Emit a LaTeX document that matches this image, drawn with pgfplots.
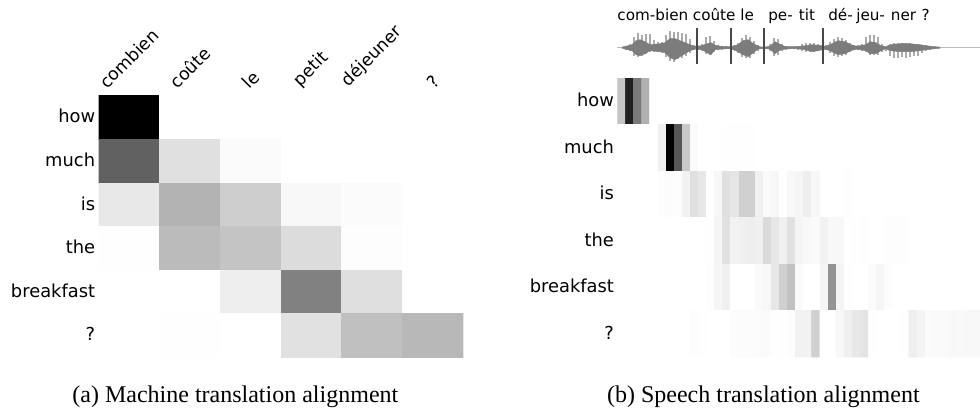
\documentclass[border=0pt]{standalone}
\usepackage{pgfplots}
\usepackage{pgfplotstable}
\usepackage{fontspec}
\pgfplotsset{compat=1.18}
\setmainfont{DejaVu Sans}
\newfontfamily\capfont{Liberation Serif}
\pgfplotstableread[row sep=\\]{
x u d\\
626 2 2\\ 628 3 2\\ 630 4 3\\ 632 7 4\\ 634 11 8\\ 636 9 7\\ 638 15 9\\ 640 17 8\\ 642 13 8\\ 644 16 7\\ 646 14 6\\ 648 13 5\\ 650 14 4\\ 652 7 4\\ 654 8 4\\ 656 5 4\\ 658 6 4\\ 660 7 5\\ 662 6 5\\ 664 9 6\\ 666 13 9\\ 668 15 11\\ 670 17 13\\ 672 20 16\\ 674 16 14\\ 676 19 15\\ 678 16 11\\ 680 18 13\\ 682 15 10\\ 684 17 12\\ 686 14 8\\ 688 13 7\\ 690 9 5\\ 692 6 4\\ 694 3 2\\ 696 2 2\\ 698 2 2\\ 700 3 2\\ 702 4 3\\ 704 8 4\\ 706 11 6\\ 708 13 7\\ 710 12 7\\ 712 13 7\\ 714 7 4\\ 716 4 3\\ 718 3 2\\ 720 2 2\\ 722 2 2\\ 724 2 2\\ 726 2 1\\ 728 2 2\\ 730 1 1\\ 732 2 2\\ 734 3 2\\ 736 4 4\\ 738 5 5\\ 740 8 7\\ 742 10 9\\ 744 12 11\\ 746 13 10\\ 748 14 12\\ 750 11 10\\ 752 9 9\\ 754 7 6\\ 756 4 3\\ 758 3 3\\ 760 2 2\\ 762 1 1\\ 764 1 1\\ 766 1 1\\ 768 2 2\\ 770 4 3\\ 772 7 6\\ 774 10 8\\ 776 12 9\\ 778 9 7\\ 780 6 5\\ 782 4 3\\ 784 3 2\\ 786 2 2\\ 788 2 1\\ 790 1 1\\ 792 1 1\\ 794 1 1\\ 796 1 1\\ 798 2 2\\ 800 3 2\\ 802 4 3\\ 804 6 4\\ 806 5 4\\ 808 6 4\\ 810 5 4\\ 812 6 5\\ 814 5 4\\ 816 5 4\\ 818 4 3\\ 820 3 3\\ 822 2 2\\ 824 2 2\\ 826 3 2\\ 828 4 3\\ 830 6 5\\ 832 8 6\\ 834 9 8\\ 836 10 8\\ 838 11 9\\ 840 10 8\\ 842 10 8\\ 844 8 7\\ 846 8 7\\ 848 6 5\\ 850 5 4\\ 852 4 3\\ 854 3 2\\ 856 2 2\\ 858 3 2\\ 860 3 3\\ 862 4 3\\ 864 7 3\\ 866 11 4\\ 868 12 6\\ 870 13 7\\ 872 13 7\\ 874 13 7\\ 876 12 6\\ 878 11 7\\ 880 8 5\\ 882 4 4\\ 884 2 2\\ 886 1 3\\ 888 2 6\\ 890 3 8\\ 892 4 9\\ 894 5 10\\ 896 4 11\\ 898 5 10\\ 900 5 11\\ 902 5 9\\ 904 5 11\\ 906 5 10\\ 908 5 11\\ 910 5 9\\ 912 5 10\\ 914 4 8\\ 916 4 9\\ 918 4 8\\ 920 4 7\\ 922 3 5\\ 924 3 5\\ 926 3 3\\ 928 2 2\\ 930 2 2\\ 932 1 1\\ 934 1 1\\
}\wavecomb
\definecolor{wavedark}{HTML}{7C7C7C}
\definecolor{wavelight}{HTML}{ABABAB}
\definecolor{waveline}{HTML}{BBBBBB}
\definecolor{wavebar}{HTML}{484848}
\pgfplotsset{
  heat/.style={
    scale only axis, y dir=reverse, axis line style={draw=none},
    major tick length=0pt, ymin=-0.5, ymax=5.5, ytick={0,1,2,3,4,5},
    yticklabels={how,much,is,the,breakfast,?},
    y tick label style={font=\fontsize{13.4}{15}\selectfont, xshift=1pt, yshift=0.9pt},
    point meta min=0, point meta max=255,
    colormap={bw}{gray(0cm)=(0); gray(1cm)=(1)},
  }
}
\begin{document}
\begin{tikzpicture}
\path[use as bounding box] (0pt,0pt) rectangle (735pt,306pt);

\begin{axis}[heat, at={(73.875pt,38.25pt)}, anchor=south west,
  width=273.6pt, height=196pt, xmin=-0.5, xmax=5.5,
  xtick={0,1,2,3,4,5}, xticklabel pos=upper,
  xticklabels={\rotatebox{45}{combien},\rotatebox{45}{coûte},\rotatebox{45}{le},\rotatebox{45}{petit},\rotatebox{45}{déjeuner},\rotatebox{45}{?}},
  x tick label style={font=\fontsize{13}{15}\selectfont, anchor=south, yshift=1pt}]
\addplot[matrix plot*, mesh/cols=6, point meta=explicit] table[row sep=\\, meta=c] {
x y c\\
0 0 0\\ 1 0 254\\ 2 0 255\\ 3 0 255\\ 4 0 255\\ 5 0 255\\
0 1 96\\ 1 1 222\\ 2 1 249\\ 3 1 255\\ 4 1 255\\ 5 1 255\\
0 2 230\\ 1 2 178\\ 2 2 205\\ 3 2 246\\ 4 2 249\\ 5 2 255\\
0 3 252\\ 1 3 186\\ 2 3 195\\ 3 3 218\\ 4 3 251\\ 5 3 255\\
0 4 255\\ 1 4 253\\ 2 4 236\\ 3 4 128\\ 4 4 220\\ 5 4 255\\
0 5 255\\ 1 5 252\\ 2 5 254\\ 3 5 223\\ 4 5 191\\ 5 5 183\\
};
\end{axis}

\begin{axis}[heat, at={(462.975pt,38.25pt)}, anchor=south west,
  width=272.025pt, height=209.25pt, xmin=-0.5, xmax=44.28, xtick=\empty]
\addplot[matrix plot*, mesh/cols=45, point meta=explicit] table[row sep=\\, meta=c] {
x y c\\
0 0 196\\ 1 0 32\\ 2 0 120\\ 3 0 176\\ 4 0 255\\ 5 0 255\\ 6 0 255\\ 7 0 255\\ 8 0 255\\ 9 0 255\\ 10 0 255\\ 11 0 255\\ 12 0 255\\ 13 0 255\\ 14 0 255\\ 15 0 255\\ 16 0 255\\ 17 0 255\\ 18 0 255\\ 19 0 255\\ 20 0 255\\ 21 0 255\\ 22 0 255\\ 23 0 255\\ 24 0 255\\ 25 0 255\\ 26 0 255\\ 27 0 255\\ 28 0 255\\ 29 0 255\\ 30 0 255\\ 31 0 255\\ 32 0 255\\ 33 0 255\\ 34 0 255\\ 35 0 255\\ 36 0 255\\ 37 0 255\\ 38 0 255\\ 39 0 255\\ 40 0 255\\ 41 0 255\\ 42 0 255\\ 43 0 255\\ 44 0 255\\
0 1 255\\ 1 1 255\\ 2 1 255\\ 3 1 255\\ 4 1 255\\ 5 1 238\\ 6 1 0\\ 7 1 85\\ 8 1 200\\ 9 1 248\\ 10 1 255\\ 11 1 255\\ 12 1 255\\ 13 1 252\\ 14 1 252\\ 15 1 252\\ 16 1 252\\ 17 1 255\\ 18 1 255\\ 19 1 255\\ 20 1 255\\ 21 1 255\\ 22 1 255\\ 23 1 255\\ 24 1 255\\ 25 1 255\\ 26 1 255\\ 27 1 255\\ 28 1 255\\ 29 1 255\\ 30 1 255\\ 31 1 255\\ 32 1 255\\ 33 1 255\\ 34 1 255\\ 35 1 255\\ 36 1 255\\ 37 1 255\\ 38 1 255\\ 39 1 255\\ 40 1 255\\ 41 1 255\\ 42 1 255\\ 43 1 255\\ 44 1 255\\
0 2 255\\ 1 2 255\\ 2 2 255\\ 3 2 255\\ 4 2 255\\ 5 2 251\\ 6 2 250\\ 7 2 251\\ 8 2 240\\ 9 2 221\\ 10 2 229\\ 11 2 254\\ 12 2 245\\ 13 2 222\\ 14 2 227\\ 15 2 207\\ 16 2 207\\ 17 2 238\\ 18 2 248\\ 19 2 245\\ 20 2 254\\ 21 2 246\\ 22 2 243\\ 23 2 236\\ 24 2 245\\ 25 2 255\\ 26 2 255\\ 27 2 255\\ 28 2 251\\ 29 2 255\\ 30 2 255\\ 31 2 255\\ 32 2 255\\ 33 2 255\\ 34 2 255\\ 35 2 255\\ 36 2 255\\ 37 2 255\\ 38 2 255\\ 39 2 255\\ 40 2 255\\ 41 2 255\\ 42 2 255\\ 43 2 255\\ 44 2 255\\
0 3 255\\ 1 3 255\\ 2 3 255\\ 3 3 255\\ 4 3 253\\ 5 3 255\\ 6 3 255\\ 7 3 255\\ 8 3 255\\ 9 3 255\\ 10 3 255\\ 11 3 252\\ 12 3 243\\ 13 3 223\\ 14 3 240\\ 15 3 238\\ 16 3 236\\ 17 3 238\\ 18 3 216\\ 19 3 229\\ 20 3 238\\ 21 3 223\\ 22 3 242\\ 23 3 246\\ 24 3 248\\ 25 3 240\\ 26 3 246\\ 27 3 246\\ 28 3 253\\ 29 3 252\\ 30 3 251\\ 31 3 254\\ 32 3 254\\ 33 3 251\\ 34 3 251\\ 35 3 251\\ 36 3 253\\ 37 3 255\\ 38 3 255\\ 39 3 255\\ 40 3 255\\ 41 3 255\\ 42 3 255\\ 43 3 255\\ 44 3 255\\
0 4 255\\ 1 4 255\\ 2 4 255\\ 3 4 255\\ 4 4 253\\ 5 4 255\\ 6 4 255\\ 7 4 255\\ 8 4 255\\ 9 4 255\\ 10 4 255\\ 11 4 251\\ 12 4 244\\ 13 4 238\\ 14 4 255\\ 15 4 255\\ 16 4 255\\ 17 4 248\\ 18 4 245\\ 19 4 229\\ 20 4 207\\ 21 4 192\\ 22 4 248\\ 23 4 255\\ 24 4 254\\ 25 4 243\\ 26 4 147\\ 27 4 242\\ 28 4 252\\ 29 4 255\\ 30 4 255\\ 31 4 249\\ 32 4 243\\ 33 4 250\\ 34 4 253\\ 35 4 255\\ 36 4 255\\ 37 4 255\\ 38 4 255\\ 39 4 255\\ 40 4 255\\ 41 4 255\\ 42 4 255\\ 43 4 255\\ 44 4 255\\
0 5 255\\ 1 5 255\\ 2 5 255\\ 3 5 255\\ 4 5 255\\ 5 5 255\\ 6 5 255\\ 7 5 253\\ 8 5 253\\ 9 5 251\\ 10 5 252\\ 11 5 253\\ 12 5 253\\ 13 5 253\\ 14 5 250\\ 15 5 250\\ 16 5 250\\ 17 5 249\\ 18 5 249\\ 19 5 252\\ 20 5 252\\ 21 5 250\\ 22 5 240\\ 23 5 240\\ 24 5 207\\ 25 5 253\\ 26 5 255\\ 27 5 246\\ 28 5 238\\ 29 5 230\\ 30 5 226\\ 31 5 252\\ 32 5 255\\ 33 5 254\\ 34 5 253\\ 35 5 252\\ 36 5 236\\ 37 5 242\\ 38 5 249\\ 39 5 248\\ 40 5 248\\ 41 5 246\\ 42 5 247\\ 43 5 246\\ 44 5 246\\
};
\end{axis}

\begin{axis}[scale only axis, at={(462.975pt,243.98pt)}, anchor=south west,
  width=272.025pt, height=52.5pt, xmin=617.3, xmax=980, ymin=-35, ymax=35,
  hide axis, clip=false]
\addplot[waveline, line width=1.1pt] coordinates {(617.3,0)(980,0)};
\addplot[ycomb, wavelight, line width=1.2pt, mark=none, each nth point=2] table[x=x, y=u] {\wavecomb};
\addplot[ycomb, wavelight, line width=1.2pt, mark=none, each nth point=2] table[x=x, y expr=-\thisrow{d}] {\wavecomb};
\addplot[fill=wavedark, draw=wavedark, line width=0.3pt] coordinates {
(622,0.6)(626,1.5)(632,3)(636,7)(640,8)(645,6)(650,3)(655,3.5)(660,4)(665,5)(670,9)(675,9)(680,7)(685,5)(690,3)(695,1.5)(702,2)(707,4)(711,5)(715,2.5)(720,1.5)(727,1)(731,1)(738,3)(743,7)(748,8)(752,5)(757,2)(760,1)(764,0.5)(770,1.5)(775,6)(779,4)(784,1.5)(790,1)(797,1)(805,2)(812,3)(818,2.5)(825,1.5)(830,3)(838,7)(845,6)(851,3)(856,1.5)(860,2)(866,3)(870,6)(876,5)(881,2)(886,1)(890,3)(900,4)(910,4)(920,3)(930,1.5)(940,0.6)
(940,-0.6)(930,-1.5)(920,-3)(910,-4)(900,-4)(890,-3)(886,-1)(881,-3)(876,-6)(870,-6)(866,-3)(860,-2)(856,-1.5)(851,-3)(845,-6)(838,-7)(830,-3)(825,-1.5)(818,-3)(812,-4)(805,-2)(797,-1)(790,-1)(784,-1.5)(779,-3)(775,-6)(770,-1.5)(764,-0.5)(760,-1)(757,-2)(752,-6)(748,-9)(743,-7)(738,-4)(731,-1)(727,-1)(720,-1.5)(715,-2)(711,-7)(707,-5)(702,-2)(695,-1.5)(690,-3)(685,-6)(680,-9)(675,-12)(670,-10)(665,-5)(660,-4)(655,-3.5)(650,-3)(645,-6)(640,-8)(636,-7)(632,-3)(626,-1.5)(622,-0.6)
} -- cycle;
\addplot[wavebar, line width=1.5pt] coordinates {(697.3,-16.3)(697.3,19.7)};
\addplot[wavebar, line width=1.5pt] coordinates {(731,-16.3)(731,19.7)};
\addplot[wavebar, line width=1.5pt] coordinates {(764.3,-16.3)(764.3,19.7)};
\addplot[wavebar, line width=1.5pt] coordinates {(822.7,-16.3)(822.7,19.7)};
\end{axis}

\begin{scope}[font=\fontsize{11.4}{13}\selectfont, every node/.style={anchor=base west, inner sep=0pt}]
\node at (462.9pt,290.6pt) {com-bien};
\node at (519.5pt,290.6pt) {coûte};
\node at (555pt,290.6pt) {le};
\node at (576pt,290.6pt) {pe-};
\node at (599pt,290.6pt) {tit};
\node at (621pt,290.6pt) {dé-};
\node at (642pt,290.6pt) {jeu-};
\node at (668pt,290.6pt) {ner};
\node at (691pt,290.6pt) {?};
\end{scope}

\node[anchor=base, inner sep=0pt, font=\capfont\fontsize{18}{20}\selectfont] at (176.5pt,4.4pt) {(a) Machine translation alignment};
\node[anchor=base, inner sep=0pt, font=\capfont\fontsize{18}{20}\selectfont] at (572.5pt,4.4pt) {(b) Speech translation alignment};
\end{tikzpicture}
\end{document}
